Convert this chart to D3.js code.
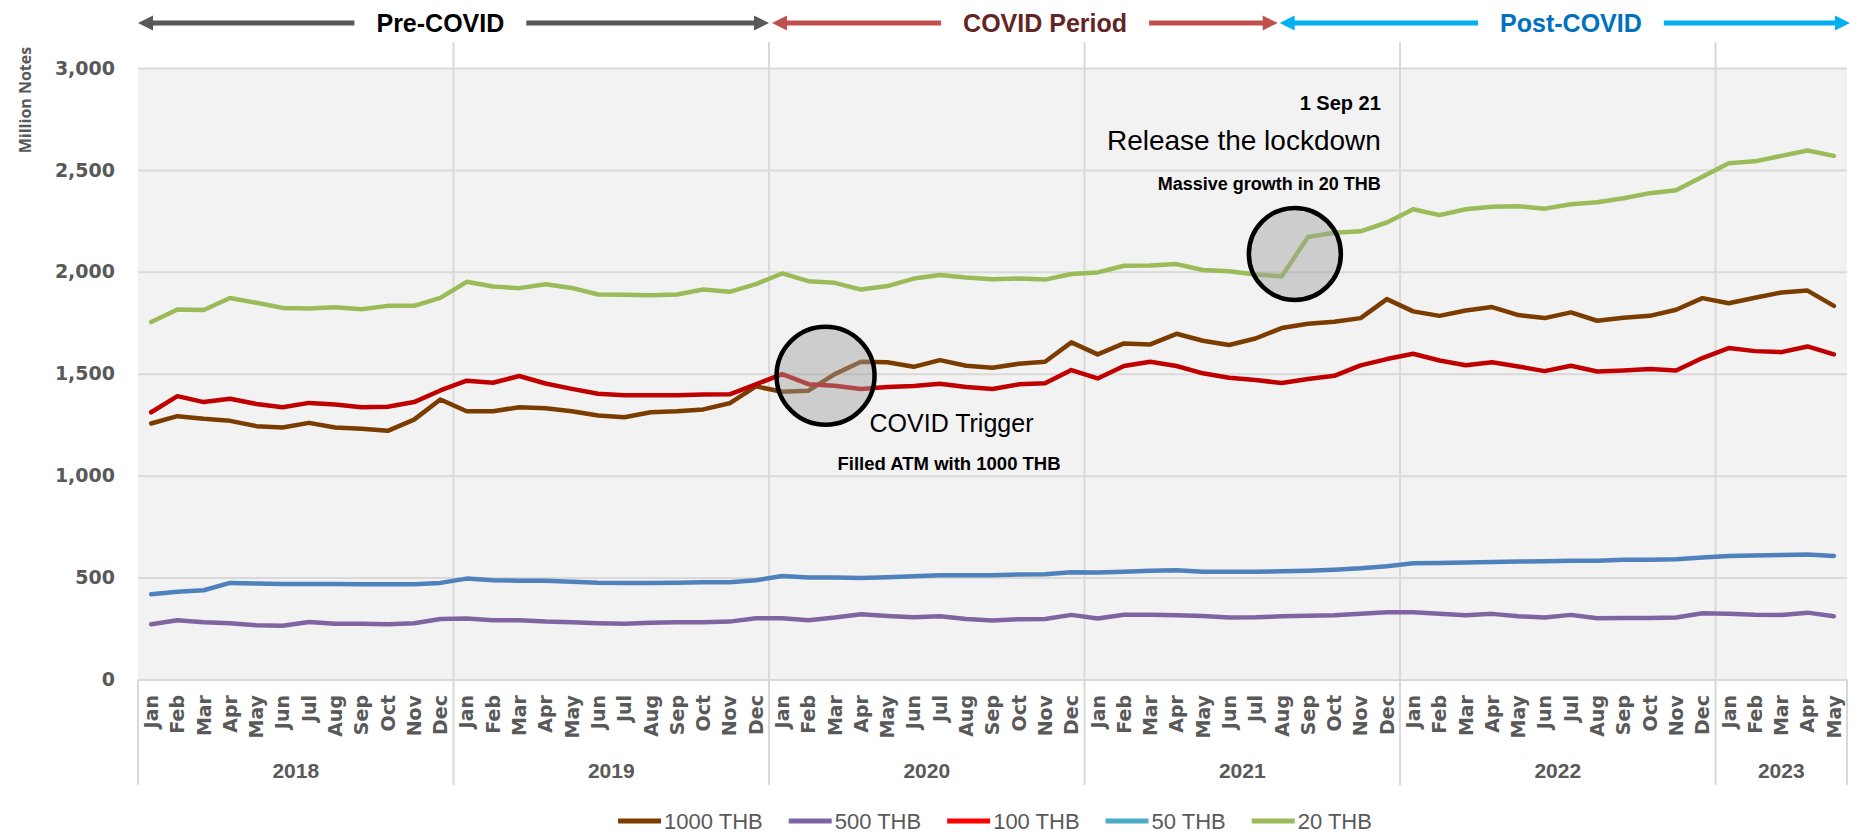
<!DOCTYPE html>
<html>
<head>
<meta charset="utf-8">
<script src="https://cdnjs.cloudflare.com/ajax/libs/d3/7.8.5/d3.min.js"></script>
<style>
  body { margin: 0; background: #fff; }
  svg { display: block; }
</style>
</head>
<body>
<div id="chart"></div>
<script>
// banknotes in circulation, million notes, Jan 2018 - May 2023
var years = ["2018", "2019", "2020", "2021", "2022", "2023"];
var monthsInYear = [12, 12, 12, 12, 12, 5];
var monthNames = ["Jan", "Feb", "Mar", "Apr", "May", "Jun", "Jul", "Aug", "Sep", "Oct", "Nov", "Dec"];

var seriesNames = ["1000 THB", "500 THB", "100 THB", "50 THB", "20 THB"];
var lineColors = ["#7b3c00", "#8064a2", "#c00000", "#4f81bd", "#9bbb59"];
var legendColors = ["#7b3c00", "#8064a2", "#ff0000", "#4bacc6", "#9bbb59"];

var thb1000 = [1256, 1292, 1279, 1269, 1243, 1236, 1259, 1236, 1230, 1220, 1275, 1374,
               1316, 1316, 1336, 1331, 1316, 1295, 1287, 1311, 1316, 1325, 1355, 1438,
               1412, 1417, 1498, 1559, 1556, 1534, 1567, 1539, 1529, 1549, 1559, 1654,
               1595, 1649, 1644, 1696, 1662, 1641, 1673, 1724, 1745, 1755, 1773, 1866,
               1806, 1784, 1810, 1827, 1788, 1773, 1801, 1760, 1775, 1784, 1814, 1871,
               1846, 1873, 1899, 1908, 1833];
var thb500 = [271, 291, 281, 276, 266, 264, 282, 274, 273, 271, 276, 297,
              299, 291, 291, 284, 281, 276, 273, 279, 281, 281, 284, 300,
              300, 291, 304, 320, 312, 305, 310, 297, 290, 296, 297, 317,
              299, 318, 318, 315, 312, 304, 305, 310, 313, 315, 322, 330,
              330, 322, 315, 322, 310, 304, 317, 300, 302, 302, 304, 325,
              322, 318, 317, 328, 310];
var thb100 = [1311, 1390, 1361, 1377, 1352, 1336, 1357, 1349, 1336, 1338, 1361, 1418,
              1466, 1456, 1489, 1452, 1426, 1402, 1395, 1395, 1395, 1398, 1399, 1448,
              1498, 1449, 1441, 1425, 1435, 1440, 1451, 1435, 1425, 1448, 1453, 1518,
              1477, 1538, 1559, 1538, 1502, 1480, 1469, 1455, 1474, 1490, 1541, 1572,
              1598, 1565, 1542, 1556, 1536, 1513, 1539, 1511, 1516, 1523, 1516, 1577,
              1626, 1611, 1606, 1634, 1595];
var thb50 = [418, 430, 438, 474, 471, 469, 469, 469, 467, 467, 467, 474,
             495, 487, 485, 484, 479, 475, 474, 474, 475, 477, 477, 487,
             508, 500, 500, 498, 502, 507, 511, 511, 512, 515, 516, 526,
             525, 529, 534, 536, 529, 529, 529, 531, 534, 539, 546, 556,
             570, 572, 574, 577, 579, 580, 582, 583, 587, 588, 590, 598,
             606, 608, 611, 613, 606];
var thb20 = [1754, 1815, 1813, 1872, 1848, 1823, 1820, 1826, 1816, 1833, 1833, 1872,
             1951, 1928, 1920, 1939, 1921, 1889, 1887, 1885, 1889, 1913, 1902, 1940,
             1992, 1954, 1946, 1913, 1930, 1967, 1984, 1972, 1964, 1967, 1962, 1989,
             1997, 2030, 2031, 2038, 2009, 2003, 1987, 1978, 2171, 2192, 2199, 2242,
             2307, 2278, 2307, 2319, 2322, 2310, 2332, 2341, 2361, 2386, 2400, 2467,
             2533, 2542, 2569, 2595, 2569];

var yTicks = [0, 500, 1000, 1500, 2000, 2500, 3000];

var periodNames = ["Pre-COVID", "COVID Period", "Post-COVID"];
var periodArrowColors = ["#595959", "#c0504d", "#00b0f0"];
var periodTextColors = ["#000000", "#632523", "#0070c0"];

var seriesValues = [thb1000, thb500, thb100, thb50, thb20];

createGraph();

function createGraph() {
    var svgWidth = 1865;
    var svgHeight = 839;
    var margin = { top: 68, left: 138 };
    var chartWidth = 1709;
    var chartHeight = 611.5;

    var months = [];
    years.forEach(function(yr, yi) {
        for (var m = 0; m < monthsInYear[yi]; m++) {
            months.push({ key: yr + "-" + monthNames[m], year: yr, month: monthNames[m] });
        }
    });

    var svg = d3.select("#chart").append("svg")
        .attr("width", svgWidth)
        .attr("height", svgHeight);

    var chartGroup = svg.append("g")
        .attr("transform", `translate(${margin.left}, ${margin.top})`);

    var xBandScale = d3.scaleBand()
        .domain(months.map(d => d.key))
        .range([0, chartWidth]);
    var step = xBandScale.bandwidth();
    var xMid = key => xBandScale(key) + step / 2;
    // fractional month index, for annotations placed between months
    var xIndex = d3.scaleLinear()
        .domain([-0.5, months.length - 0.5])
        .range([0, chartWidth]);

    var yLinearScale = d3.scaleLinear()
        .domain([0, 3000])
        .range([chartHeight, 0]);

    chartGroup.append("rect")
        .attr("width", chartWidth)
        .attr("height", chartHeight)
        .attr("fill", "#f2f2f2");

    // horizontal grid
    chartGroup.append("g")
        .call(d3.axisLeft(yLinearScale).tickValues(yTicks).tickSize(-chartWidth).tickFormat(""))
        .call(g => g.select(".domain").remove())
        .call(g => g.selectAll("line").attr("stroke", "#d9d9d9").attr("stroke-width", 2));

    // year dividers
    var jans = months.filter((d, i) => i > 0 && d.month === "Jan");
    chartGroup.selectAll(".divider")
        .data(jans)
        .enter()
        .append("line")
        .attr("x1", d => xBandScale(d.key))
        .attr("x2", d => xBandScale(d.key))
        .attr("y1", -26)
        .attr("y2", 717)
        .attr("stroke", "#d9d9d9")
        .attr("stroke-width", 2);
    [0, chartWidth].forEach(function(xx) {
        chartGroup.append("line")
            .attr("x1", xx).attr("x2", xx)
            .attr("y1", chartHeight).attr("y2", 717)
            .attr("stroke", "#d9d9d9")
            .attr("stroke-width", 2);
    });

    // y axis labels
    chartGroup.append("g")
        .call(d3.axisLeft(yLinearScale).tickValues(yTicks).tickSize(0).tickPadding(23).tickFormat(d3.format(",")))
        .call(g => g.select(".domain").remove())
        .selectAll("text")
        .attr("fill", "#595959")
        .style("font-family", "'DejaVu Sans', Verdana, sans-serif")
        .style("font-weight", "bold")
        .style("font-size", "19px");

    svg.append("text")
        .attr("transform", "translate(31, 100) rotate(-90)")
        .attr("text-anchor", "middle")
        .attr("fill", "#595959")
        .style("font-family", "'Open Sans', sans-serif")
        .style("font-weight", "bold")
        .style("font-size", "16px")
        .text("Million Notes");

    // month axis
    var bottomAxis = d3.axisBottom(xBandScale)
        .tickSize(0)
        .tickSizeOuter(0)
        .tickFormat(k => k.split("-")[1]);
    var xAxisGroup = chartGroup.append("g")
        .attr("transform", `translate(0, ${chartHeight})`)
        .call(bottomAxis);
    xAxisGroup.select(".domain")
        .attr("stroke", "#d9d9d9")
        .attr("stroke-width", 2);
    xAxisGroup.selectAll("text")
        .attr("y", 0)
        .attr("x", -15.5)
        .attr("dy", "0.36em")
        .attr("transform", "rotate(-90)")
        .style("text-anchor", "end")
        .attr("fill", "#595959")
        .style("font-family", "'DejaVu Sans', Verdana, sans-serif")
        .style("font-weight", "bold")
        .style("font-size", "19px");

    // year labels
    chartGroup.selectAll(".year")
        .data(years)
        .enter()
        .append("text")
        .attr("x", function(yr) {
            var ms = months.filter(d => d.year === yr);
            return (xBandScale(ms[0].key) + xBandScale(ms[ms.length - 1].key) + step) / 2;
        })
        .attr("y", 710)
        .attr("text-anchor", "middle")
        .attr("fill", "#595959")
        .style("font-family", "'Liberation Sans', Arial, sans-serif")
        .style("font-weight", "bold")
        .style("font-size", "21px")
        .text(d => d);

    // lines
    var drawLine = d3.line()
        .x((d, i) => xMid(months[i].key))
        .y(d => yLinearScale(d));

    chartGroup.selectAll(".series")
        .data(seriesValues)
        .enter()
        .append("path")
        .attr("d", drawLine)
        .attr("fill", "none")
        .attr("stroke", (d, i) => lineColors[i])
        .attr("stroke-width", 4.5)
        .attr("stroke-linejoin", "round")
        .attr("stroke-linecap", "round");

    // annotation circles
    var c1 = { x: xIndex(25.65), y: yLinearScale(1490), r: 49 };
    var c2 = { x: xIndex(43.5), y: yLinearScale(2088), r: 46 };
    [c1, c2].forEach(function(c) {
        chartGroup.append("circle")
            .attr("cx", c.x)
            .attr("cy", c.y)
            .attr("r", c.r)
            .attr("fill", "rgba(160,160,160,0.45)")
            .attr("stroke", "#000")
            .attr("stroke-width", 4.5);
    });

    var noteFont = "'Liberation Sans', Arial, Helvetica, sans-serif";
    function note(tx, ty, anchor, size, weight, str) {
        chartGroup.append("text")
            .attr("x", tx)
            .attr("y", ty)
            .attr("text-anchor", anchor)
            .attr("fill", "#000")
            .style("font-family", noteFont)
            .style("font-size", size + "px")
            .style("font-weight", weight)
            .text(str);
    }
    note(c1.x + 44, c1.y + 56, "start", 25, "normal", "COVID Trigger");
    note(c1.x + 12, c1.y + 94, "start", 18.5, "bold", "Filled ATM with 1000 THB");
    note(c2.x + 86, c2.y - 144, "end", 20, "bold", "1 Sep 21");
    note(c2.x + 86, c2.y - 104, "end", 28, "normal", "Release the lockdown");
    note(c2.x + 86, c2.y - 64, "end", 18, "bold", "Massive growth in 20 THB");

    // period arrows on top
    var arrowY = 23 - margin.top;
    var periods = [
        { from: 0, to: xBandScale("2020-Jan"), center: xMid("2018-Dec") },
        { from: xBandScale("2020-Jan") + 3, to: xMid("2021-Aug") - 4, center: xMid("2020-Nov") },
        { from: xMid("2021-Aug") - 2, to: chartWidth + 3, center: xMid("2022-Jul") }
    ];
    var headLen = 15, headHalf = 7.5;
    periods.forEach(function(p, i) {
        var label = chartGroup.append("text")
            .attr("x", p.center)
            .attr("y", arrowY)
            .attr("dy", "0.35em")
            .attr("text-anchor", "middle")
            .attr("fill", periodTextColors[i])
            .style("font-family", "'Liberation Sans', Arial, sans-serif")
            .style("font-weight", "bold")
            .style("font-size", "25px")
            .text(periodNames[i]);
        var half = label.node().getComputedTextLength() / 2 + 22;
        var col = periodArrowColors[i];
        [[p.from + headLen - 1, p.center - half], [p.center + half, p.to - headLen + 1]].forEach(function(seg) {
            chartGroup.append("line")
                .attr("x1", seg[0]).attr("x2", seg[1])
                .attr("y1", arrowY).attr("y2", arrowY)
                .attr("stroke", col)
                .attr("stroke-width", 5);
        });
        chartGroup.append("path")
            .attr("d", `M${p.from},${arrowY}L${p.from + headLen},${arrowY - headHalf}L${p.from + headLen},${arrowY + headHalf}Z`)
            .attr("fill", col);
        chartGroup.append("path")
            .attr("d", `M${p.to},${arrowY}L${p.to - headLen},${arrowY - headHalf}L${p.to - headLen},${arrowY + headHalf}Z`)
            .attr("fill", col);
    });

    // legend
    var legendY = 821;
    var legend = svg.append("g");
    var cursor = 0;
    seriesNames.forEach(function(name, i) {
        var item = legend.append("g").attr("transform", `translate(${cursor}, ${legendY})`);
        item.append("line")
            .attr("x1", 0).attr("x2", 43)
            .attr("stroke", legendColors[i])
            .attr("stroke-width", 5);
        var t = item.append("text")
            .attr("x", 46)
            .attr("dy", "0.35em")
            .attr("fill", "#595959")
            .style("font-family", "'Liberation Sans', Arial, sans-serif")
            .style("font-size", "22px")
            .text(name);
        cursor += 46 + t.node().getComputedTextLength() + 26;
    });
    var legendWidth = cursor - 26;
    legend.attr("transform", `translate(${995 - legendWidth / 2}, 0)`);
}
</script>
</body>
</html>
